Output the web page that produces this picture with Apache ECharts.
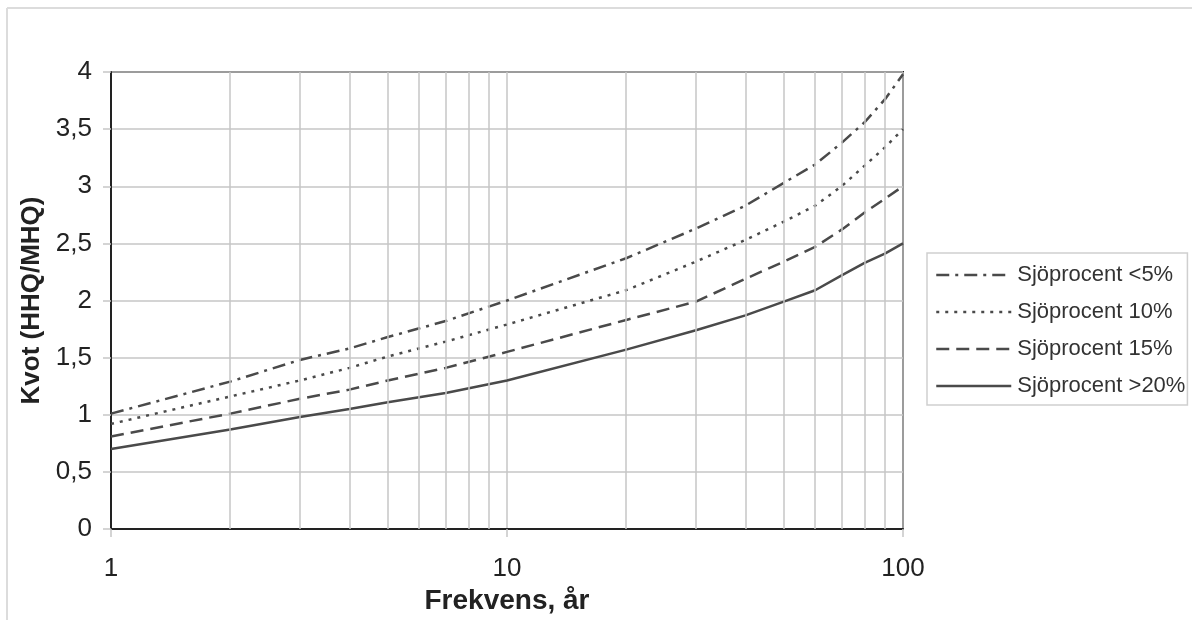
<!DOCTYPE html>
<html>
<head>
<meta charset="utf-8">
<script src="https://cdn.jsdelivr.net/npm/echarts@6/dist/echarts.min.js"></script>
<style>
  html, body { margin: 0; padding: 0; background: #fff; }
  #chart { width: 1192px; height: 620px; }
</style>
</head>
<body>
<div id="chart"></div>
<script>
// ---- Data ----
const frequencies = [1, 2, 3, 4, 5, 7, 10, 20, 30, 40, 50, 60, 70, 80, 90, 100];
const seriesNames = ['Sjöprocent <5%', 'Sjöprocent 10%', 'Sjöprocent 15%', 'Sjöprocent >20%'];
const lake5  = [1.01, 1.29, 1.48, 1.58, 1.68, 1.82, 2.00, 2.37, 2.63, 2.83, 3.03, 3.19, 3.38, 3.56, 3.76, 3.98];
const lake10 = [0.92, 1.16, 1.30, 1.41, 1.51, 1.64, 1.79, 2.09, 2.34, 2.53, 2.69, 2.83, 3.00, 3.18, 3.34, 3.50];
const lake15 = [0.81, 1.01, 1.14, 1.22, 1.30, 1.41, 1.55, 1.83, 1.99, 2.19, 2.34, 2.47, 2.62, 2.77, 2.89, 3.00];
const lake20 = [0.70, 0.87, 0.98, 1.05, 1.11, 1.19, 1.30, 1.57, 1.74, 1.87, 1.99, 2.09, 2.22, 2.33, 2.41, 2.50];
const minorGridX = [2, 3, 4, 5, 6, 7, 8, 9, 20, 30, 40, 50, 60, 70, 80, 90];
const yMin = 0, yMax = 4, yStep = 0.5;
const xMin = 1, xMax = 100;

const FONT = 'Liberation Sans';
const LINE_COLOR = '#4a4a4a';
const GRID_COLOR = '#c6c6c6';

function pairs(ys) { return frequencies.map((f, i) => [f, ys[i]]); }

const styles = [
  [13, 6, 3, 6],   // dash-dot
  [3, 6],          // dotted
  [13, 7],         // dashed
  'solid'
];
const allValues = [lake5, lake10, lake15, lake20];

const chart = echarts.init(document.getElementById('chart'), null, { renderer: 'canvas' });

const lineSeries = allValues.map((vals, i) => ({
  name: seriesNames[i],
  type: 'line',
  data: pairs(vals),
  symbol: 'none',
  smooth: false,
  z: 3,
  lineStyle: { color: LINE_COLOR, width: 2.5, type: styles[i] },
  itemStyle: { color: LINE_COLOR },
  animation: false
}));

const option = {
  animation: false,
  textStyle: { fontFamily: FONT },
  graphic: [
    { type: 'line', shape: { x1: 7, y1: 8, x2: 1192, y2: 8 }, style: { stroke: '#dcdcdc', lineWidth: 2 }, silent: true },
    { type: 'line', shape: { x1: 7, y1: 8, x2: 7, y2: 620 }, style: { stroke: '#dcdcdc', lineWidth: 2 }, silent: true }
  ],
  grid: {
    left: 111, right: 289, top: 72, bottom: 91,
    show: true, borderColor: '#222', borderWidth: 2, backgroundColor: 'transparent'
  },
  legend: {
    data: seriesNames,
    orient: 'vertical',
    left: 927, top: 253,
    padding: [11, 2, 8, 8],
    itemWidth: 75, itemHeight: 14, itemGap: 15,
    borderColor: '#cfcfcf', borderWidth: 1.5,
    itemStyle: { opacity: 0 },
    lineStyle: { width: 2.5 },
    textStyle: { fontFamily: FONT, fontSize: 22, color: '#333', padding: [0, 0, 0, 1] },
    selectedMode: false
  },
  xAxis: {
    type: 'log', logBase: 10, min: xMin, max: xMax,
    name: 'Frekvens, år', nameLocation: 'middle', nameGap: 58,
    nameTextStyle: { fontFamily: FONT, fontSize: 28, fontWeight: 'bold', color: '#222' },
    axisLine: { show: true, lineStyle: { color: '#222', width: 2 } },
    axisTick: { show: true, inside: false, length: 8, lineStyle: { color: GRID_COLOR, width: 1.5 } },
    axisLabel: { fontFamily: FONT, fontSize: 26, color: '#222', margin: 27 },
    splitLine: { show: true, lineStyle: { color: GRID_COLOR, width: 1.5 } }
  },
  yAxis: {
    type: 'value', min: yMin, max: yMax, interval: yStep,
    name: 'Kvot (HHQ/MHQ)', nameLocation: 'middle', nameGap: 66,
    nameTextStyle: { fontFamily: FONT, fontSize: 26, fontWeight: 'bold', color: '#222' },
    axisLine: { show: true, lineStyle: { color: '#222', width: 2 } },
    axisTick: { show: true, inside: false, length: 8, lineStyle: { color: GRID_COLOR, width: 1.5 } },
    axisLabel: {
      fontFamily: FONT, fontSize: 26, color: '#222', margin: 19,
      formatter: v => String(v).replace('.', ',')
    },
    splitLine: { show: true, lineStyle: { color: GRID_COLOR, width: 1.5 } }
  },
  series: [
    {
      name: 'minor-grid',
      type: 'line',
      data: [],
      z: 1,
      silent: true,
      markLine: {
        silent: true,
        symbol: ['none', 'none'],
        label: { show: false },
        lineStyle: { color: GRID_COLOR, width: 1.5, type: 'solid' },
        emphasis: { disabled: true },
        animation: false,
        data: minorGridX.map(v => ({ xAxis: v }))
      }
    }
  ].concat(lineSeries)
};

chart.setOption(option);
</script>
</body>
</html>
